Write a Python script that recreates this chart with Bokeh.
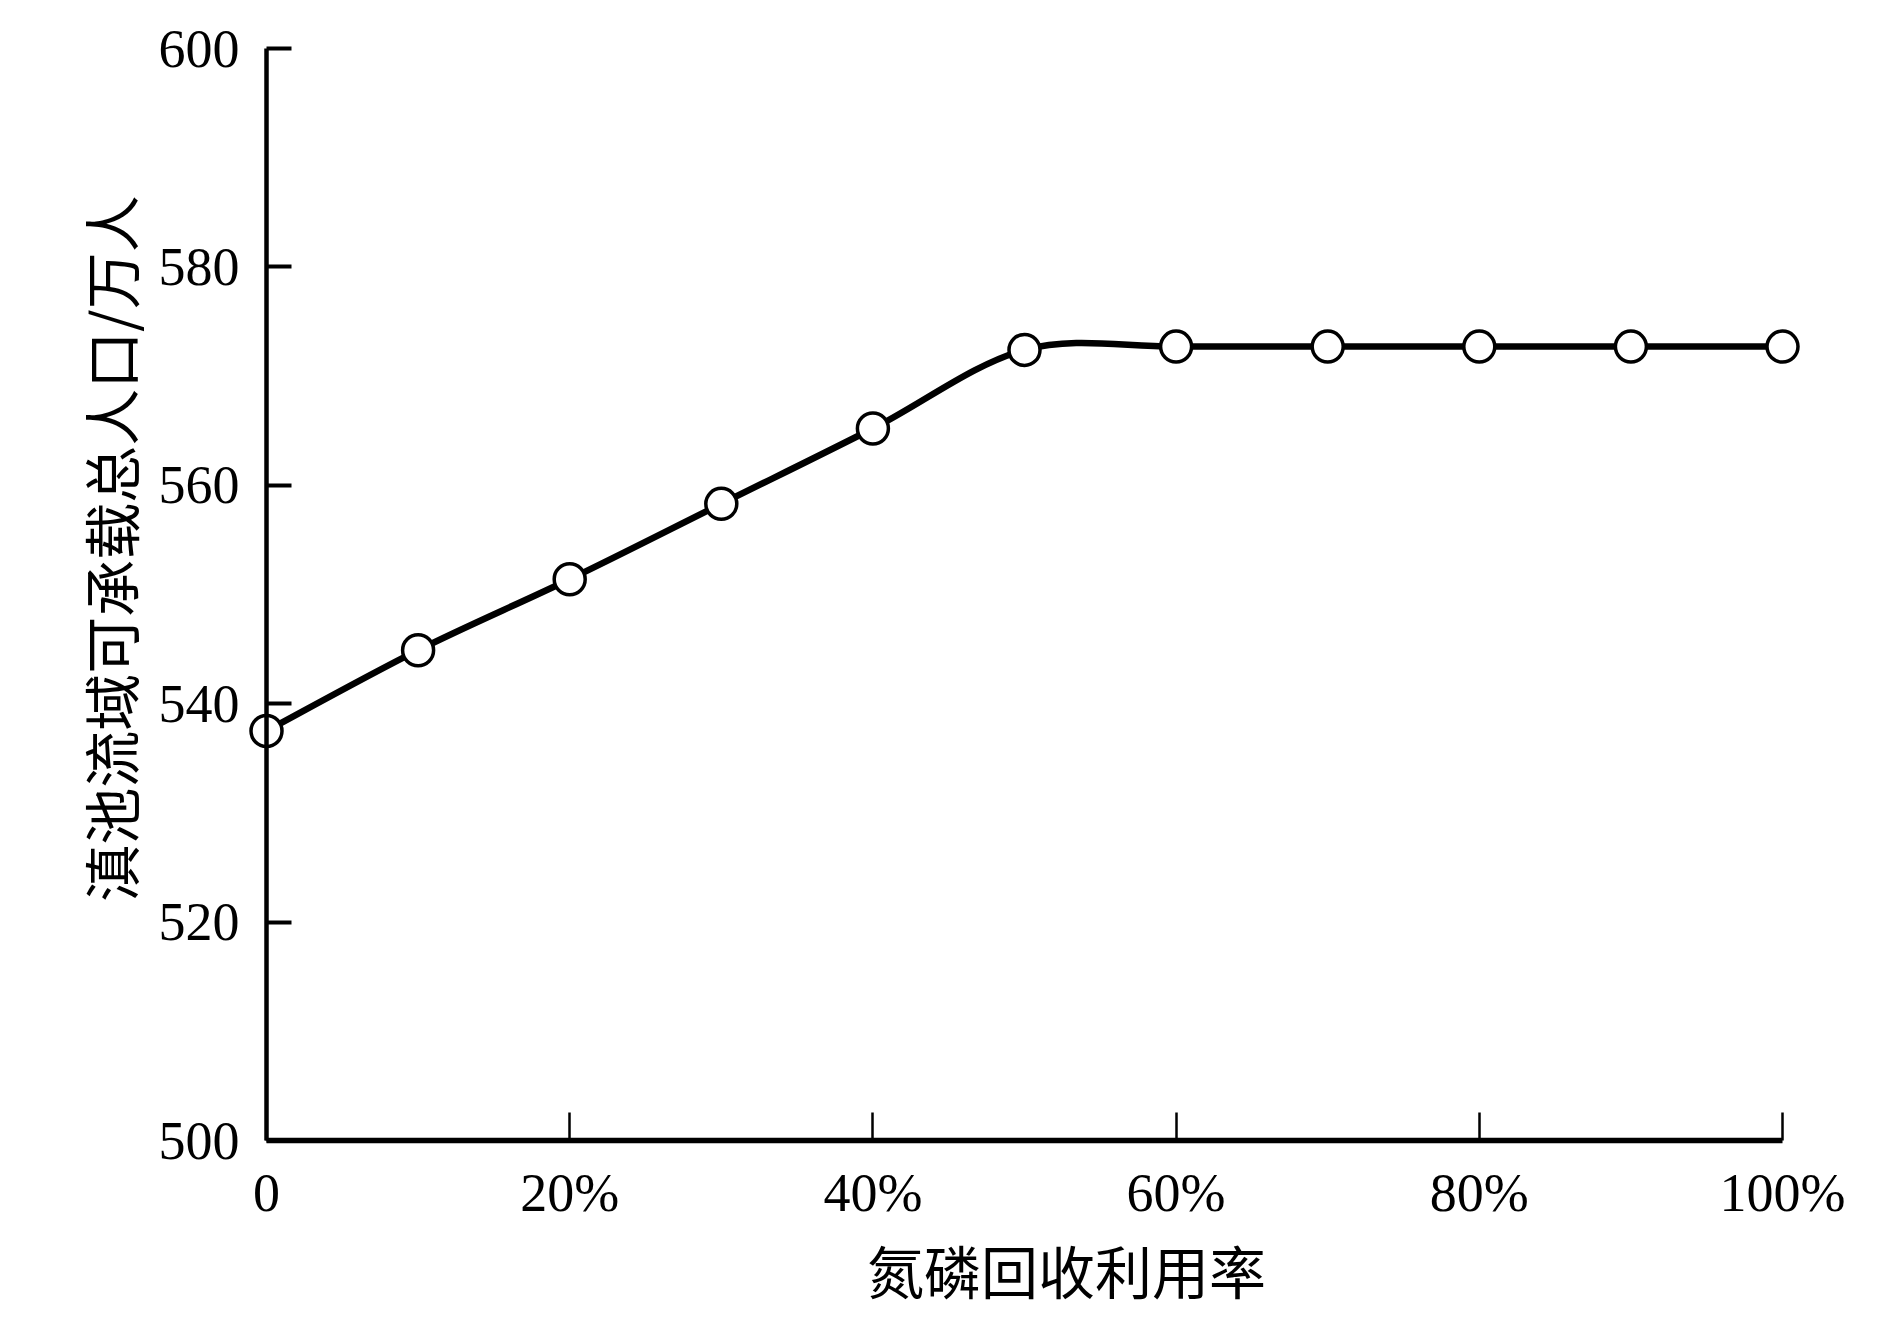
import math
from bokeh.plotting import figure
from bokeh.models import FixedTicker, Range1d, LinearAxis, Label
from bokeh.embed import file_html
from bokeh.resources import INLINE

# data
rate_pct = [0, 10, 20, 30, 40, 50, 60, 70, 80, 90, 100]
population = [537.5, 544.9, 551.4, 558.3, 565.2, 572.4, 572.7, 572.7, 572.7, 572.7, 572.7]
x_ticks = [0, 20, 40, 60, 80, 100]
x_tick_labels = ["0", "20%", "40%", "60%", "80%", "100%"]
y_ticks = [500, 520, 540, 560, 580, 600]
x_label = "氮磷回收利用率"
y_label = "滇池流域可承载总人口/万人"

# layout (pixels inside the figure)
W, H = 1874, 1315
ax_left, ax_right = 266, 1782     # pixel x of 0% and 100%
ax_top, ax_bottom = 48, 1140      # pixel y of 600 and 500
xmin, xmax = 0, 100
ymin, ymax = 500, 600
sx = (ax_right - ax_left) / (xmax - xmin)
sy = (ax_bottom - ax_top) / (ymax - ymin)
x_range = Range1d(xmin - ax_left / sx, xmax + (W - ax_right) / sx)
y_range = Range1d(ymin - (H - ax_bottom) / sy, ymax + ax_top / sy)

p = figure(width=W, height=H, output_backend="svg", toolbar_location=None,
           x_range=x_range, y_range=y_range, x_axis_location=None, y_axis_location=None)
p.min_border = 0
p.min_border_left = 0
p.min_border_right = 0
p.min_border_top = 0
p.min_border_bottom = 0
p.outline_line_color = None
p.grid.visible = False
p.background_fill_color = "white"
p.border_fill_color = "white"

serif = "Liberation Serif"
cjk = "Noto Sans CJK SC"

# smooth curve (Catmull-Rom as cubic Bezier segments) through the data
n = len(rate_pct)
x0, y0, x1, y1, cx0, cy0, cx1, cy1 = [], [], [], [], [], [], [], []
for i in range(n - 1):
    xp = rate_pct[i - 1] if i > 0 else rate_pct[i]
    yp = population[i - 1] if i > 0 else population[i]
    xn = rate_pct[i + 2] if i + 2 < n else rate_pct[i + 1]
    yn = population[i + 2] if i + 2 < n else population[i + 1]
    x0.append(rate_pct[i]); y0.append(population[i])
    x1.append(rate_pct[i + 1]); y1.append(population[i + 1])
    cx0.append(rate_pct[i] + (rate_pct[i + 1] - xp) / 6)
    cy0.append(population[i] + (population[i + 1] - yp) / 6)
    cx1.append(rate_pct[i + 1] - (xn - rate_pct[i]) / 6)
    cy1.append(population[i + 1] - (yn - population[i]) / 6)

# x axis
xa = LinearAxis(fixed_location=ymin, bounds=(xmin, xmax))
xa.ticker = FixedTicker(ticks=x_ticks)
xa.major_label_overrides = {t: l for t, l in zip(x_ticks, x_tick_labels)}
xa.minor_tick_line_color = None
xa.major_tick_in = 28
xa.major_tick_out = 0
xa.major_tick_line_width = 2.5
xa.axis_line_width = 5.5
xa.axis_line_color = "black"
xa.major_tick_line_color = "black"
xa.major_label_text_font = serif
xa.major_label_text_font_size = "54px"
xa.major_label_text_color = "black"
xa.major_label_standoff = 22
p.add_layout(xa, "below")

# y axis
ya = LinearAxis(fixed_location=xmin, bounds=(ymin, ymax))
ya.ticker = FixedTicker(ticks=y_ticks)
ya.minor_tick_line_color = None
ya.major_tick_in = 25
ya.major_tick_out = 0
ya.major_tick_line_width = 4
ya.axis_line_width = 4.5
ya.axis_line_color = "black"
ya.major_tick_line_color = "black"
ya.major_label_text_font = serif
ya.major_label_text_font_size = "54px"
ya.major_label_text_color = "black"
ya.major_label_standoff = 27
p.add_layout(ya, "left")

# axis titles (placed as in the reference, slightly off-centre)
p.add_layout(Label(x=1066, y=H - 1268, x_units="screen", y_units="screen",
                   text=x_label, text_font=cjk, text_font_size="57px",
                   text_color="black", text_align="center", text_baseline="middle"))
p.add_layout(Label(x=108, y=H - 548, x_units="screen", y_units="screen",
                   text=y_label, text_font=cjk, text_font_size="57px", angle=math.pi / 2,
                   text_color="black", text_align="center", text_baseline="middle"))

p.bezier(x0=x0, y0=y0, x1=x1, y1=y1, cx0=cx0, cy0=cy0, cx1=cx1, cy1=cy1,
         line_color="black", line_width=6.5)
p.scatter(rate_pct, population, size=31, marker="circle", fill_color="white",
          line_color="black", line_width=3.5)

open("out.html", "w").write(file_html(p, INLINE))
